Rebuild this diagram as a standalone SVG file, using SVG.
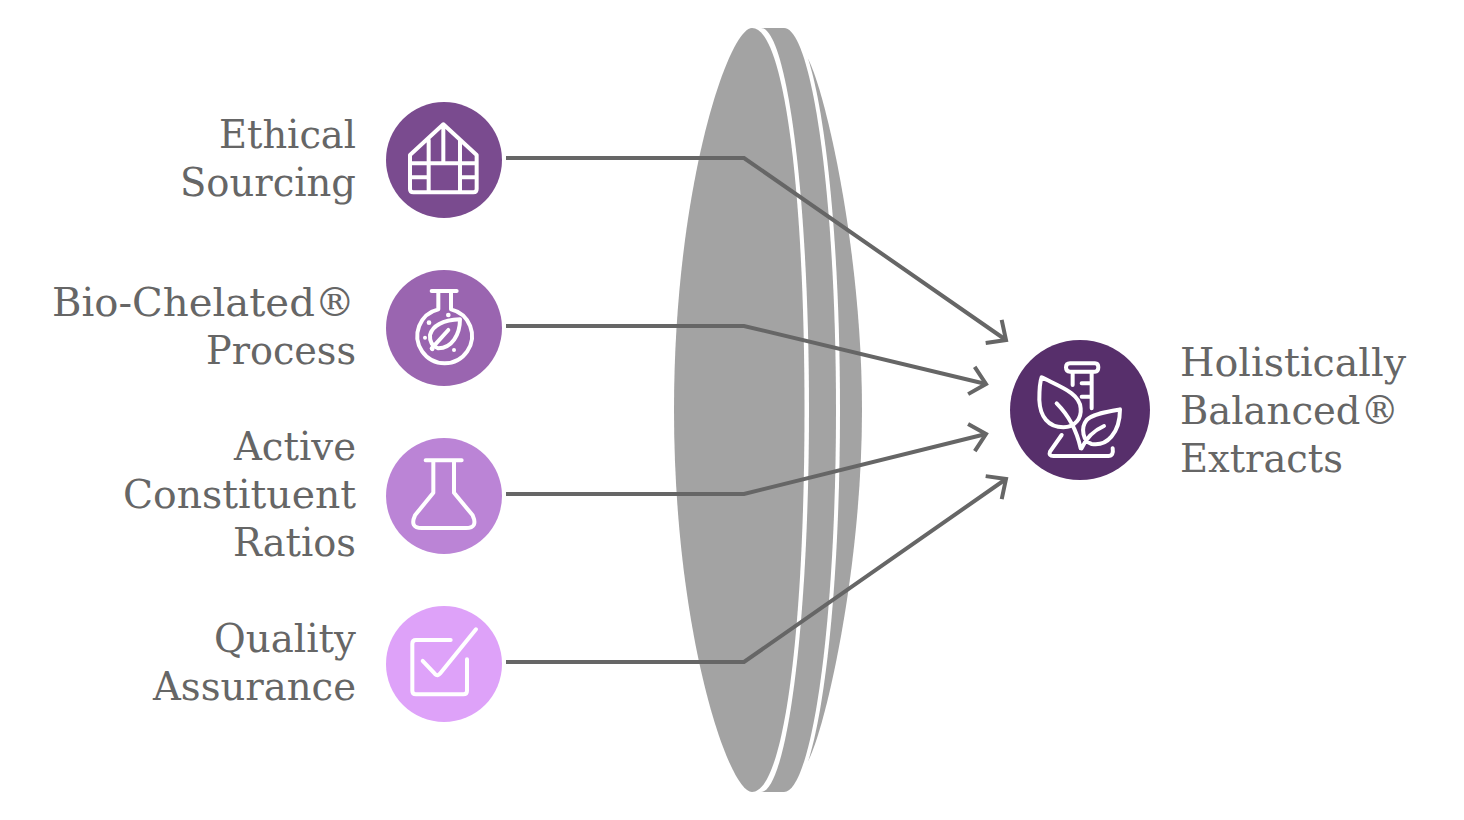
<svg xmlns="http://www.w3.org/2000/svg" width="1464" height="820" viewBox="0 0 1464 820">
<style>
.l{font-family:"DejaVu Serif","Liberation Serif",serif;font-size:40px;fill:#666;}
.e{text-anchor:end;}
.ic{fill:none;stroke:#fff;stroke-width:12;stroke-linecap:round;stroke-linejoin:round;}
.c{fill:none;stroke:#666;stroke-width:4;}
.g{fill:#a3a3a3;}
</style>
<defs>
<marker id="a" markerUnits="userSpaceOnUse" markerWidth="40" markerHeight="40" refX="20" refY="20" orient="auto" overflow="visible">
<path d="M5 6 L20 20 L5 34" fill="none" stroke="#666" stroke-width="4"/>
</marker>
</defs>
<g id="lens">
<path class="g" d="M808 59 C825 90 862 250 862 410 C862 570 825 730 808 761 Z"/>
<path fill="#fff" d="M788 28 C815 28 840 190 840 410 C840 630 815 792 788 792 Z"/>
<path class="g" d="M755 28 H784 C811 28 836 190 836 410 C836 630 811 792 784 792 H755 Z"/>
<path fill="#fff" d="M752 28 H761 C786 28 809 190 809 410 C809 630 786 792 761 792 H752 Z"/>
<path class="g" d="M752 28 C728 28 674 190 674 410 C674 630 728 792 752 792 C784 792 804.5 630 804.5 410 C804.5 190 784 28 752 28 Z"/>
</g>
<g id="connectors">
<path class="c" marker-end="url(#a)" d="M506 158 H744 L1006 340"/>
<path class="c" marker-end="url(#a)" d="M506 326 H744 L986 384"/>
<path class="c" marker-end="url(#a)" d="M506 494 H744 L986 434"/>
<path class="c" marker-end="url(#a)" d="M506 662 H744 L1006 479"/>
</g>
<g id="node-ethical">
<text class="l e" x="356" y="148" textLength="137" lengthAdjust="spacingAndGlyphs">Ethical</text>
<text class="l e" x="356" y="196" textLength="176" lengthAdjust="spacingAndGlyphs">Sourcing</text>
<circle cx="444" cy="160" r="58" fill="#7a4b8f"/>
<g transform="translate(380 95) scale(.3333)"><path class="ic" d="M190 88 L290 180 V282 Q290 292 280 292 H100 Q90 292 90 282 V180 Z M146 135 V292 M190 88 V200 M240 135 V292 M90 205 H290 M90 247 H146 M240 247 H290"/></g>
</g>
<g id="node-bio">
<text class="l e" x="355" y="316" textLength="303" lengthAdjust="spacingAndGlyphs">Bio-Chelated®</text>
<text class="l e" x="356" y="364" textLength="150" lengthAdjust="spacingAndGlyphs">Process</text>
<circle cx="444" cy="328" r="58" fill="#9a65b0"/>
<g transform="translate(380 265) scale(.3333)">
<path class="ic" d="M155 78 H230 M175 78 V133 A82 82 0 1 0 213 133 V78 M240 163 C200 165 160 175 150 210 C148 235 160 245 175 250 C215 250 240 210 240 163 Z M155 250 L205 195"/>
<g fill="#fff"><circle cx="147" cy="173" r="7"/><circle cx="205" cy="150" r="7"/><circle cx="135" cy="218" r="6"/><circle cx="157" cy="253" r="6"/><circle cx="222" cy="255" r="6"/></g>
</g>
</g>
<g id="node-active">
<text class="l e" x="356" y="460" textLength="122" lengthAdjust="spacingAndGlyphs">Active</text>
<text class="l e" x="356" y="508" textLength="233" lengthAdjust="spacingAndGlyphs">Constituent</text>
<text class="l e" x="356" y="556" textLength="123" lengthAdjust="spacingAndGlyphs">Ratios</text>
<circle cx="444" cy="496" r="58" fill="#bb84d6"/>
<g transform="translate(380 432) scale(.3333)"><path class="ic" d="M137 85 H245 M160 85 V182 L105 250 Q88 288 125 288 H258 Q295 288 278 250 L222 182 V85"/></g>
</g>
<g id="node-quality">
<text class="l e" x="356" y="652" textLength="142" lengthAdjust="spacingAndGlyphs">Quality</text>
<text class="l e" x="356" y="700" textLength="203" lengthAdjust="spacingAndGlyphs">Assurance</text>
<circle cx="444" cy="664" r="58" fill="#dea2f9"/>
<g transform="translate(380 600) scale(.3333)"><path class="ic" d="M212 120 H108 Q97 120 97 131 V272 Q97 283 108 283 H250 Q261 283 261 272 V178 M128 183 L165 222 Q173 230 181 220 L288 88"/></g>
</g>
<g id="node-extracts">
<circle cx="1080" cy="410" r="70" fill="#572f6b"/>
<g transform="translate(980 320) scale(.3333)"><path class="ic" d="M270 130 H345 Q355 130 355 142 Q355 155 345 155 H270 Q258 155 258 142 Q258 130 270 130 Z M278 155 V195 M335 155 V265 M305 190 H335 M305 230 H335 M245 345 L210 395 Q205 408 220 408 H385 Q402 408 398 385 M185 172 C240 200 300 220 302 265 C305 295 285 322 250 322 C205 322 180 290 178 240 C178 215 178 190 185 172 Z M230 250 C265 285 290 330 302 385 M420 268 C390 275 340 280 320 300 C300 325 310 365 335 372 C380 380 420 340 420 268 Z M372 318 C345 330 320 350 305 385"/></g>
<text class="l" x="1180" y="376" textLength="226" lengthAdjust="spacingAndGlyphs">Holistically</text>
<text class="l" x="1180" y="424" textLength="219" lengthAdjust="spacingAndGlyphs">Balanced®</text>
<text class="l" x="1180" y="472" textLength="163" lengthAdjust="spacingAndGlyphs">Extracts</text>
</g>
</svg>
